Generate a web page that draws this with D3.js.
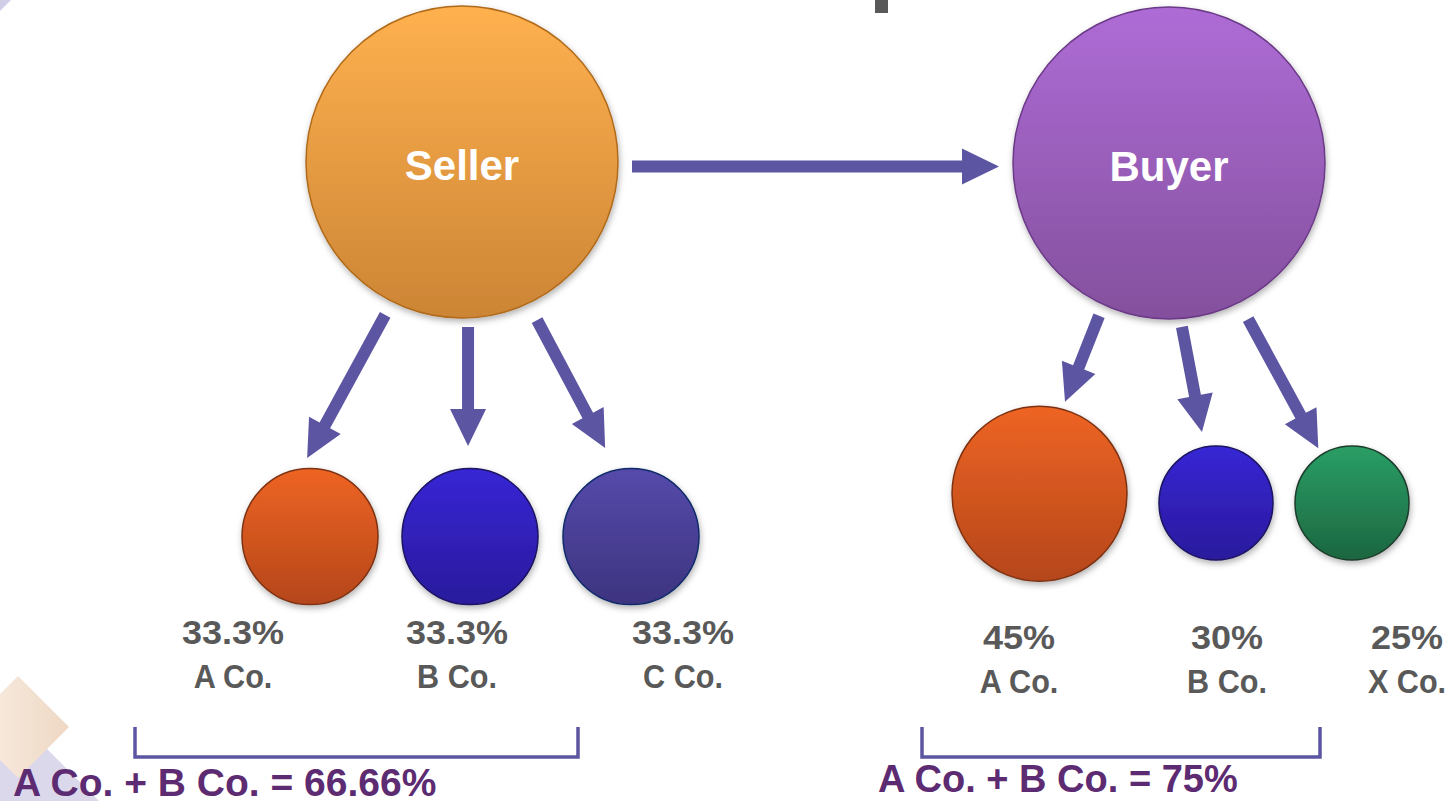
<!DOCTYPE html>
<html>
<head>
<meta charset="utf-8">
<script src="https://cdn.jsdelivr.net/npm/d3@7"></script>
<style>
  body { margin: 0; background: #fff; }
  svg { display: block; font-family: 'Liberation Sans', Arial, sans-serif; }
</style>
</head>
<body>
<div id="chart"></div>
<script>
// Data

const parties = ['Seller', 'Buyer']
const sellerCompanies = ['A Co.', 'B Co.', 'C Co.']
const sellerShares = [33.3, 33.3, 33.3]
const buyerCompanies = ['A Co.', 'B Co.', 'X Co.']
const buyerShares = [45, 30, 25]
const combinedLabels = ['A Co. + B Co. = 66.66%', 'A Co. + B Co. = 75%']

// Look

const W = 1452
const H = 801
const ARROW = '#5c55a2'
const GREY = '#595959'
const PURPLE = '#5d2b72'

const COLORS = {
  Seller: ['#ffb14f', '#cc8535', '#b06a1a'],
  Buyer: ['#ae6cd6', '#84509d', '#6b3a87'],
  orange: ['#ee6424', '#b5461a', '#7d3212'],
  blue: ['#3726d5', '#2a1a9c', '#1a1260'],
  slate: ['#564aab', '#3d347f', '#0f2a6a'],
  green: ['#2a9f66', '#1c6640', '#1c3b2b'],
}

// layout of each side: packing of child circles, label columns, arrows
// arrows: [start angle on parent, gap, direction angle, length] (degrees from straight down)
const groups = [
  {
    party: 'Seller',
    companies: sellerCompanies,
    shares: sellerShares,
    fills: ['orange', 'blue', 'slate'],
    left: 242,
    gaps: [24, 25],
    baseY: 557,
    labelX: [233, 457, 683],
    pctY: 644,
    nameY: 688,
    bracket: [135, 578],
    sumX: 13,
    sumY: 796,
    sumSize: 39,
    arrows: [[-26.7, 15, -28.6, 163], [2.1, 9, 0, 119], [25.4, 19, 28, 145]],
  },
  {
    party: 'Buyer',
    companies: buyerCompanies,
    shares: buyerShares,
    fills: ['orange', 'blue', 'green'],
    left: 952,
    gaps: [32, 22],
    baseY: 520,
    labelX: [1019, 1227, 1407],
    pctY: 649,
    nameY: 693,
    bracket: [922, 1320],
    sumX: 878,
    sumY: 792,
    sumSize: 38,
    arrows: [[-24.6, 12, -21.6, 92.5], [4.5, 8.5, 10.8, 107], [26.9, 19, 28.5, 147]],
  },
]

// Scales

const x = d3.scalePoint().domain(parties).range([462, 1169])
const y = d3.scaleOrdinal().domain(parties).range([162, 163])
const R = 156
const r = d3.scaleLinear().domain([30, 33.3, 45]).range([57, 68, 87.5]).clamp(true)

const svg = d3.select('#chart').append('svg').attr('width', W).attr('height', H)
const defs = svg.append('defs')

Object.entries(COLORS).forEach(([key, [top, bottom]]) => {
  const g = defs.append('linearGradient')
    .attr('id', `grad-${key}`)
    .attr('x1', '0%').attr('x2', '0%').attr('y1', '0%').attr('y2', '100%')
  g.append('stop').attr('offset', '0').attr('stop-color', top)
  g.append('stop').attr('offset', '1').attr('stop-color', bottom)
})

const beige = defs.append('linearGradient').attr('id', 'grad-beige')
beige.append('stop').attr('offset', '0').attr('stop-color', '#faefe5')
beige.append('stop').attr('offset', '1').attr('stop-color', '#eed8c4')

defs.append('filter')
  .attr('id', 'shadow')
  .attr('x', '-20%').attr('y', '-20%').attr('width', '140%').attr('height', '150%')
  .append('feDropShadow')
  .attr('dx', 1).attr('dy', 3).attr('stdDeviation', 3)
  .attr('flood-color', '#000').attr('flood-opacity', 0.3)

// Background shapes

svg.append('path').attr('d', 'M0,0L11,0L0,11Z').attr('fill', '#d0cde6')
svg.append('rect').attr('x', 875).attr('y', 0).attr('width', 13).attr('height', 13).attr('fill', GREY)
svg.append('path').attr('d', 'M0,702L99,801L0,801Z').attr('fill', '#dcd8ec')
svg.append('path').attr('d', 'M18,676L69,727L18,778L-33,727Z').attr('fill', 'url(#grad-beige)')

// Arrow helper: polygon from a start point, angle (deg from down) and length

function arrowPath(x0, y0, deg, len, shaft = 12, headW = 36, headL = 37) {
  const a = (deg * Math.PI) / 180
  const ux = Math.sin(a)
  const uy = Math.cos(a)
  const nx = Math.cos(a)
  const ny = -Math.sin(a)
  const at = (d, s) => [x0 + ux * d + nx * s, y0 + uy * d + ny * s]
  const neck = len - headL
  const pts = [
    at(0, shaft / 2), at(neck, shaft / 2), at(neck, headW / 2), at(len, 0),
    at(neck, -headW / 2), at(neck, -shaft / 2), at(0, -shaft / 2),
  ]
  return d3.line()(pts) + 'Z'
}

// Seller -> Buyer arrow

const midY = (y('Seller') + y('Buyer')) / 2 + 4
const x0 = x('Seller') + R + 14
const x1 = x('Buyer') - R - 14
svg.append('path').attr('d', arrowPath(x0, midY, 90, x1 - x0)).attr('fill', ARROW)

// Parent circles

const parents = svg.append('g').selectAll('g').data(parties).join('g')

parents.append('circle')
  .attr('cx', (d) => x(d))
  .attr('cy', (d) => y(d))
  .attr('r', R)
  .attr('fill', (d) => `url(#grad-${d})`)
  .attr('stroke', (d) => COLORS[d][2])
  .attr('stroke-width', 1.5)
  .attr('filter', 'url(#shadow)')

parents.append('text')
  .attr('x', (d) => x(d))
  .attr('y', (d) => y(d) + 18)
  .attr('text-anchor', 'middle')
  .attr('fill', '#fff')
  .attr('font-size', 42)
  .attr('font-weight', 'bold')
  .text((d) => d)

// Children, arrows, labels

groups.forEach((grp, gi) => {
  const px = x(grp.party)
  const py = y(grp.party)

  // pack circles left to right
  let cursor = grp.left
  const nodes = grp.shares.map((v, i) => {
    const rad = r(v)
    const cx = cursor + rad
    cursor = cx + rad + (grp.gaps[i] || 0)
    return { name: grp.companies[i], value: v, fill: grp.fills[i], cx, cy: grp.baseY - 0.3 * rad, rad, arrow: grp.arrows[i] }
  })

  const lx = d3.scaleOrdinal().domain(grp.companies.map((c, i) => i)).range(grp.labelX)

  const g = svg.append('g')

  g.selectAll('path.arrow').data(nodes).join('path')
    .attr('class', 'arrow')
    .attr('fill', ARROW)
    .attr('d', (d) => {
      const [sa, gap, dir, len] = d.arrow
      const a = (sa * Math.PI) / 180
      const sx = px + Math.sin(a) * (R + gap)
      const sy = py + Math.cos(a) * (R + gap)
      return arrowPath(sx, sy, dir, len)
    })

  g.selectAll('circle').data(nodes).join('circle')
    .attr('cx', (d) => d.cx)
    .attr('cy', (d) => d.cy)
    .attr('r', (d) => d.rad)
    .attr('fill', (d) => `url(#grad-${d.fill})`)
    .attr('stroke', (d) => COLORS[d.fill][2])
    .attr('stroke-width', 1.5)
    .attr('filter', 'url(#shadow)')

  const labels = g.selectAll('g.label').data(nodes).join('g')
    .attr('class', 'label')
    .attr('fill', GREY)
    .attr('font-weight', 'bold')
    .attr('font-size', 34)
    .attr('text-anchor', 'middle')

  // the original face has wide digits and narrow letters
  labels.append('text')
    .attr('transform', (d, i) => `translate(${lx(i)},${grp.pctY}) scale(1.06,1)`)
    .text((d) => `${d.value}%`)

  labels.append('text')
    .attr('transform', (d, i) => `translate(${lx(i)},${grp.nameY}) scale(0.9,1)`)
    .text((d) => d.name)

  // bracket and combined share
  const [b0, b1] = grp.bracket
  g.append('path')
    .attr('d', `M${b0},727V757H${b1}V727`)
    .attr('fill', 'none')
    .attr('stroke', ARROW)
    .attr('stroke-width', 3.5)

  g.append('text')
    .attr('x', grp.sumX)
    .attr('y', grp.sumY)
    .attr('fill', PURPLE)
    .attr('font-weight', 'bold')
    .attr('font-size', grp.sumSize)
    .text(combinedLabels[gi])
})
</script>
</body>
</html>
